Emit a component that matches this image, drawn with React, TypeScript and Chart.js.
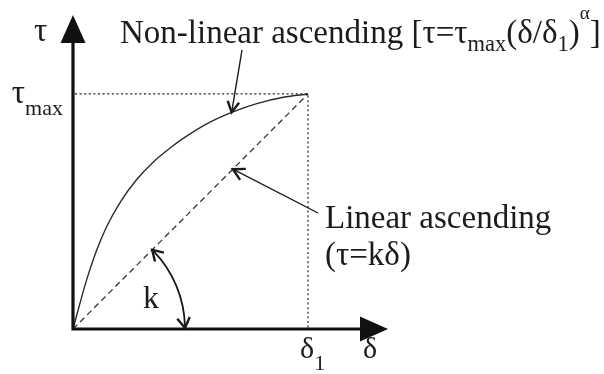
import React, { useEffect, useRef } from "react";
import { Chart, registerables } from "chart.js";

Chart.register(...registerables);

// Normalised slip (δ/δ1) and stress (τ/τmax) read along the non-linear branch
const deltaNorm = [0, 0.03, 0.058, 0.101, 0.143, 0.2, 0.271, 0.342, 0.413, 0.469, 0.569, 0.675, 0.782, 0.895, 1];
const tauNonLinear = [0, 0.111, 0.209, 0.336, 0.435, 0.538, 0.636, 0.711, 0.77, 0.811, 0.873, 0.922, 0.959, 0.986, 1];
// Linear branch τ = kδ
const deltaLinear = [0, 1];
const tauLinear = [0, 1];
// Axis extent (arrow tips) in normalised units
const axisMax = 1.336;

const SERIF = '"Liberation Serif", "Times New Roman", serif';
const INK = "#1c1c1c";

type Part = [string, number, number]; // text, font size, baseline shift

function richWidth(ctx: CanvasRenderingContext2D, parts: Part[]) {
  let w = 0;
  for (const [t, s] of parts) {
    ctx.font = `${s}px ${SERIF}`;
    w += ctx.measureText(t).width;
  }
  return w;
}

function drawRich(ctx: CanvasRenderingContext2D, x: number, y: number, parts: Part[]) {
  let cx = x;
  ctx.textAlign = "left";
  ctx.textBaseline = "alphabetic";
  for (const [t, s, dy] of parts) {
    ctx.font = `${s}px ${SERIF}`;
    ctx.fillText(t, cx, y + dy);
    cx += ctx.measureText(t).width;
  }
}

function openHead(ctx: CanvasRenderingContext2D, tx: number, ty: number, dirX: number, dirY: number, len: number, spread: number) {
  const a = Math.atan2(dirY, dirX);
  ctx.beginPath();
  ctx.moveTo(tx - len * Math.cos(a - spread), ty - len * Math.sin(a - spread));
  ctx.lineTo(tx, ty);
  ctx.lineTo(tx - len * Math.cos(a + spread), ty - len * Math.sin(a + spread));
  ctx.stroke();
}

const diagramPlugin = {
  id: "bondSlipDiagram",
  beforeDatasetsDraw(chart: any) {
    const { ctx, scales } = chart;
    const x = scales.x, y = scales.y;
    const ox = x.getPixelForValue(0), oy = y.getPixelForValue(0);
    const px = x.getPixelForValue(1), py = y.getPixelForValue(1);
    ctx.save();
    ctx.strokeStyle = "#222";
    ctx.lineWidth = 1.2;
    ctx.setLineDash([2, 2.6]);
    ctx.beginPath();
    ctx.moveTo(ox + 2, py);
    ctx.lineTo(px, py);
    ctx.lineTo(px, oy - 1);
    ctx.stroke();
    ctx.restore();
  },
  afterDatasetsDraw(chart: any) {
    const { ctx, scales, chartArea } = chart;
    const x = scales.x, y = scales.y;
    const ox = x.getPixelForValue(0), oy = y.getPixelForValue(0);
    const px = x.getPixelForValue(1), py = y.getPixelForValue(1);
    const top = chartArea.top, right = chartArea.right;

    ctx.save();
    // axes with filled arrow heads
    ctx.strokeStyle = "#111";
    ctx.fillStyle = "#111";
    ctx.lineWidth = 3.2;
    ctx.lineCap = "butt";
    ctx.beginPath();
    ctx.moveTo(ox, oy + 1.6);
    ctx.lineTo(ox, top + 22);
    ctx.moveTo(ox - 1.6, oy);
    ctx.lineTo(right - 22, oy);
    ctx.stroke();
    ctx.beginPath();
    ctx.moveTo(ox, top);
    ctx.lineTo(ox + 12.5, top + 28);
    ctx.lineTo(ox - 12.5, top + 28);
    ctx.closePath();
    ctx.fill();
    ctx.beginPath();
    ctx.moveTo(right + 1, oy);
    ctx.lineTo(right - 27, oy - 12.5);
    ctx.lineTo(right - 27, oy + 12.5);
    ctx.closePath();
    ctx.fill();

    // annotation arrows
    ctx.strokeStyle = "#1a1a1a";
    ctx.lineJoin = "miter";
    // non-linear branch pointer
    const t1x = x.getPixelForValue(0.675), t1y = y.getPixelForValue(0.922);
    const s1x = 242, s1y = 50;
    ctx.lineWidth = 1.4;
    ctx.beginPath();
    ctx.moveTo(s1x, s1y);
    ctx.lineTo(t1x, t1y);
    ctx.stroke();
    ctx.lineWidth = 2.4;
    openHead(ctx, t1x, t1y, t1x - s1x, t1y - s1y, 12, 0.5);

    // linear branch pointer
    const t2x = x.getPixelForValue(0.68), t2y = y.getPixelForValue(0.68);
    const s2x = 318, s2y = 213;
    ctx.lineWidth = 1.4;
    ctx.beginPath();
    ctx.moveTo(s2x, s2y);
    ctx.lineTo(t2x, t2y);
    ctx.stroke();
    ctx.lineWidth = 2.4;
    openHead(ctx, t2x, t2y, t2x - s2x, t2y - s2y, 13, 0.5);

    // angle k between linear branch and δ axis
    const ang = Math.atan2(py - oy, px - ox);
    const r = 112;
    ctx.lineWidth = 1.8;
    ctx.beginPath();
    ctx.arc(ox, oy, r, ang + 0.02, -0.02);
    ctx.stroke();
    ctx.lineWidth = 2.4;
    openHead(ctx, ox + r, oy - 1, 0.15, 1, 12, 0.55);
    openHead(ctx, ox + r * Math.cos(ang), oy + r * Math.sin(ang), Math.sin(ang) - 0.1, -Math.cos(ang) - 0.1, 12, 0.55);

    // text
    ctx.fillStyle = INK;
    drawRich(ctx, 120, 43, [
      ["Non-linear ascending [τ=τ", 33, 0],
      ["max", 22.5, 8],
      ["(δ/δ", 33, 0],
      ["1", 22.5, 8],
      [")", 33, 0],
      ["α", 19, -24],
      ["]", 33, 0],
    ]);
    drawRich(ctx, 325, 228, [["Linear ascending", 33, 0]]);
    drawRich(ctx, 325, 265, [["(τ=kδ)", 33, 0]]);
    drawRich(ctx, 143, 308, [["k", 32, 0]]);

    // axis labels
    drawRich(ctx, 34, 41, [["τ", 33, 0]]);
    const tmax: Part[] = [["τ", 33, 0], ["max", 22, 12]];
    drawRich(ctx, ox - 10 - richWidth(ctx, tmax), py + 9, tmax);
    const d1: Part[] = [["δ", 30, 0], ["1", 22, 12]];
    drawRich(ctx, px - 8, oy + 29, d1);
    drawRich(ctx, 363, oy + 29, [["δ", 30, 0]]);
    ctx.restore();
  },
};

export default function App() {
  const canvasRef = useRef<HTMLCanvasElement | null>(null);

  useEffect(() => {
    const canvas = canvasRef.current;
    if (!canvas) return;
    const chart = new Chart(canvas, {
      type: "line",
      data: {
        datasets: [
          {
            label: "Non-linear ascending",
            data: deltaNorm.map((d, i) => ({ x: d, y: tauNonLinear[i] })),
            borderColor: "#2a2a2a",
            borderWidth: 1.4,
            pointRadius: 0,
            cubicInterpolationMode: "monotone",
            fill: false,
          },
          {
            label: "Linear ascending",
            data: deltaLinear.map((d, i) => ({ x: d, y: tauLinear[i] })),
            borderColor: "#333",
            borderWidth: 1.3,
            borderDash: [6, 4],
            pointRadius: 0,
            fill: false,
          },
        ],
      },
      options: {
        responsive: false,
        animation: false,
        layout: { padding: { left: 73, right: 217, top: 15, bottom: 45 } },
        plugins: { legend: { display: false }, tooltip: { enabled: false } },
        scales: {
          x: { type: "linear", min: 0, max: axisMax, display: false },
          y: { type: "linear", min: 0, max: axisMax, display: false },
        },
      },
      plugins: [diagramPlugin],
    } as any);
    return () => chart.destroy();
  }, []);

  return (
    <div style={{ position: "fixed", left: 0, top: 0, width: 604, height: 374, background: "#fff" }}>
      <canvas ref={canvasRef} width={604} height={374} style={{ display: "block" }} />
    </div>
  );
}
